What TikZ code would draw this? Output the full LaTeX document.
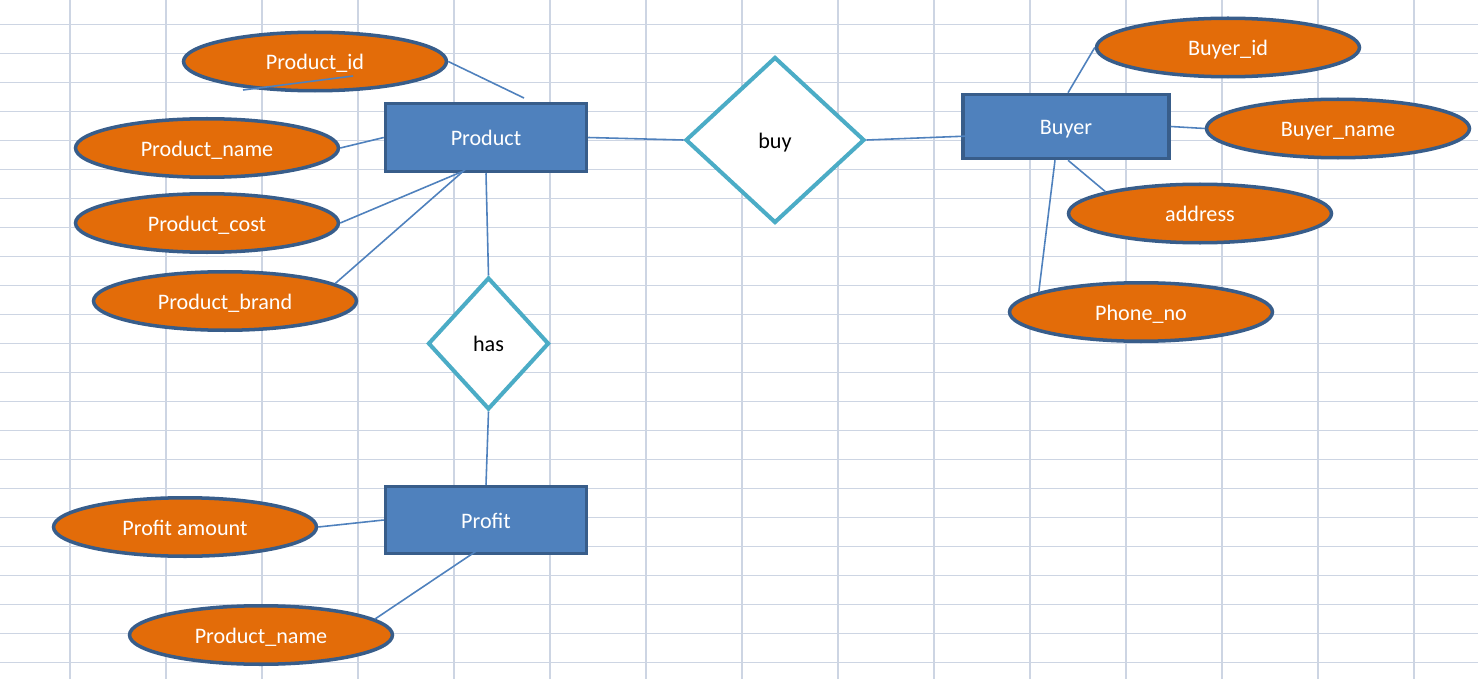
\documentclass[tikz,border=0pt]{standalone}
\usepackage{fontspec}
\setmainfont{Carlito}
\usetikzlibrary{shapes.geometric, calc}
\definecolor{cent}{HTML}{4F81BD}
\definecolor{cedge}{HTML}{385D8A}
\definecolor{cattr}{HTML}{E36C09}
\definecolor{crel}{HTML}{4BACC6}
\definecolor{cgrid}{HTML}{CDD5E3}
\tikzset{
  every picture/.style={font=\fontsize{12.6}{15}\selectfont},
  every node/.style={text height=1.05em, text depth=0.13em},
  entity/.style={draw=cedge, fill=cent, line width=2pt, text=white, minimum width=4.02cm, minimum height=1.36cm, inner sep=0pt},
  attr/.style={ellipse, draw=cedge, fill=cattr, line width=2pt, text=white, minimum width=5.26cm, minimum height=1.17cm, inner sep=0pt},
  rel/.style={diamond, draw=crel, fill=white, line width=2.3pt, text=black, inner sep=0pt},
  link/.style={draw=cent, line width=0.9pt},
  gridline/.style={draw=cgrid, line width=0.6pt},
}

\begin{document}
\begin{tikzpicture}[x=0.02cm, y=-0.02cm]
  \useasboundingbox (0,0) rectangle (1478,679);
  \fill[white] (0,0) rectangle (1478,679);
  % sheet grid
  \foreach \gx in {70,166,...,1414} \draw[gridline] (\gx,0) -- (\gx,679);
  \foreach \k in {0,...,22} \draw[gridline] (0,24.3+29*\k) -- (1478,24.3+29*\k);
  % entities
  \node[entity] (product) at (486,137.5) {Product};
  \node[entity, minimum width=4.12cm, minimum height=1.28cm] (buyer) at (1066,126.5) {Buyer};
  \node[entity, minimum height=1.34cm] (profit) at (486,520) {Profit};
  % relationships
  \node[rel, minimum width=2.42cm, minimum height=2.64cm] (has) at (488.5,343.5) {has};
  \node[rel, minimum width=3.58cm, minimum height=3.32cm] (buy) at (775,140) {buy};
  % attributes of Product
  \node[attr] (pid) at (315,61.5) {Product\_id};
  \node[attr] (pname) at (207,148) {Product\_name};
  \node[attr] (pcost) at (207,223) {Product\_cost};
  \node[attr] (pbrand) at (225,301) {Product\_brand};
  % attributes of Buyer
  \node[attr] (bid) at (1228,47.5) {Buyer\_id};
  \node[attr] (bname) at (1338,128.5) {Buyer\_name};
  \node[attr] (addr) at (1200,213.5) {address};
  \node[attr] (phone) at (1141,312) {Phone\_no};
  % attributes of Profit
  \node[attr] (pamount) at (185,527) {Profit amount};
  \node[attr] (pname2) at (261,635) {Product\_name};
  % free ends
  \coordinate (pidend) at (524,98);
  \coordinate (strayA) at (243,90);
  \coordinate (strayB) at (353,76);
  % links
  \draw[link] (pid.east) -- (pidend);
  \draw[link] (strayA) -- (strayB);
  \draw[link] (pname.east) -- (product.west);
  \draw[link] (pcost.east) -- ($(product.south)+(-23,-2)$);
  \draw[link] (pbrand.9) -- ($(product.south)+(-8,-15)$);
  \draw[link] (product.south) -- (has.north);
  \draw[link] (product.east) -- (buy.west);
  \draw[link] (buy.east) -- ($(buyer.west)+(21,9)$);
  \draw[link] ($(buyer.north)+(2,0)$) -- (bid.west);
  \draw[link] (buyer.east) -- (bname.west);
  \draw[link] ($(buyer.south)+(2,0)$) -- (addr.167);
  \draw[link] ($(buyer.south)+(-11,0)$) -- (phone.169);
  \draw[link] (has.south) -- (profit.north);
  \draw[link] (pamount.east) -- (profit.west);
  \draw[link] (pname2.8) -- ($(profit.south)+(-1,-10)$);
\end{tikzpicture}
\end{document}
